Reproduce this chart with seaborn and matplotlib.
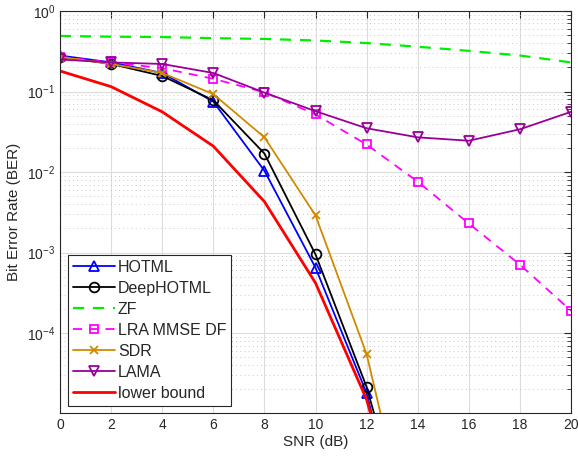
import numpy as np
import pandas as pd
import matplotlib
matplotlib.use("Agg")
import matplotlib.pyplot as plt
import seaborn as sns
from matplotlib.ticker import LogLocator, NullFormatter, FixedLocator

snr = [0, 2, 4, 6, 8, 10, 12, 14, 16, 18, 20]
snr_short = [0, 2, 4, 6, 8, 10, 12, 14]

hotml = [0.28, 0.23, 0.17, 0.075, 0.0104, 6.5e-4, 1.8e-5, 5e-8]
deephotml = [0.27, 0.22, 0.156, 0.078, 0.017, 9.5e-4, 2.15e-5, 1.2e-7]
sdr = [0.27, 0.22, 0.17, 0.093, 0.027, 2.9e-3, 5.5e-5, 1.1e-7]
lower_bound = [0.18, 0.115, 0.056, 0.021, 0.0043, 4.2e-4, 1.5e-5, 8e-8]
zf = [0.49, 0.48, 0.475, 0.46, 0.45, 0.43, 0.40, 0.36, 0.32, 0.28, 0.23]
lra_mmse_df = [0.27, 0.23, 0.195, 0.144, 0.098, 0.052, 0.022, 0.0076, 0.0023, 7.1e-4, 1.9e-4]
lama = [0.25, 0.23, 0.22, 0.17, 0.097, 0.057, 0.035, 0.027, 0.0245, 0.034, 0.056]

sns.set_style("white")
plt.rcParams['font.family'] = ['Liberation Sans', 'DejaVu Sans']

fig = plt.figure(figsize=(5.78, 4.59), dpi=100)
ax = fig.add_axes([60/578, 1-413/459, (571-60)/578, (413-11)/459])

series = [
    ("HOTML", snr_short, hotml, dict(color="#0000ff", marker="^", linestyle="-", lw=1.3, ms=7.5)),
    ("DeepHOTML", snr_short, deephotml, dict(color="#000000", marker="o", linestyle="-", lw=1.3, ms=7)),
    ("ZF", snr, zf, dict(color="#00ee00", marker=None, linestyle=(0, (5, 4)), lw=1.6, ms=7)),
    ("LRA MMSE DF", snr, lra_mmse_df, dict(color="#ff00ff", marker="s", linestyle=(0, (5, 4)), lw=1.3, ms=6)),
    ("SDR", snr_short, sdr, dict(color="#d08a00", marker="x", linestyle="-", lw=1.3, ms=6)),
    ("LAMA", snr, lama, dict(color="#990099", marker="v", linestyle="-", lw=1.3, ms=7.5)),
    ("lower bound", snr_short, lower_bound, dict(color="#ff0000", marker=None, linestyle="-", lw=2.0, ms=7)),
]

for name, xs, ys, st in series:
    df = pd.DataFrame({"SNR": xs, "BER": ys})
    sns.lineplot(data=df, x="SNR", y="BER", ax=ax, label=name, color=st["color"],
                 marker=st["marker"], linestyle=st["linestyle"], linewidth=st["lw"],
                 markersize=st["ms"], markerfacecolor="none", markeredgecolor=st["color"],
                 markeredgewidth=1.3, clip_on=True)

ax.set_yscale("log")
ax.set_xlim(0, 20)
ax.set_ylim(1.02e-5, 1)
ax.set_xticks([0, 2, 4, 6, 8, 10, 12, 14, 16, 18, 20])
ax.yaxis.set_major_locator(FixedLocator([1e-4, 1e-3, 1e-2, 1e-1, 1e0]))
ax.yaxis.set_minor_locator(LogLocator(base=10, subs=np.arange(2, 10), numticks=20))
ax.yaxis.set_minor_formatter(NullFormatter())

ax.grid(True, which="major", color="#dcdcdc", linewidth=0.8, linestyle="-")
ax.grid(True, which="minor", axis="y", color="#c8c8c8", linewidth=0.7, linestyle=(0, (1, 3.3)))
ax.set_axisbelow(True)

ax.tick_params(which="both", direction="in", top=True, right=True, colors="#262626",
               labelsize=10, labelcolor="#262626")
ax.tick_params(which="major", length=5, width=0.8)
ax.tick_params(which="minor", length=3, width=0.6)
for s in ax.spines.values():
    s.set_color("#262626")
    s.set_linewidth(0.8)

ax.set_xlabel("SNR (dB)", fontsize=11, color="#262626", labelpad=2)
ax.set_ylabel("Bit Error Rate (BER)", fontsize=11, color="#262626", labelpad=4)

leg = ax.legend(loc="lower left", bbox_to_anchor=(0.01, 0.01), fontsize=11.5, frameon=True,
                fancybox=False, framealpha=1, edgecolor="#262626", handlelength=2.6,
                borderpad=0.3, labelspacing=0.38, handletextpad=0.2, borderaxespad=0.2)
leg.get_frame().set_linewidth(0.8)

fig.savefig("out.png", dpi=100)
